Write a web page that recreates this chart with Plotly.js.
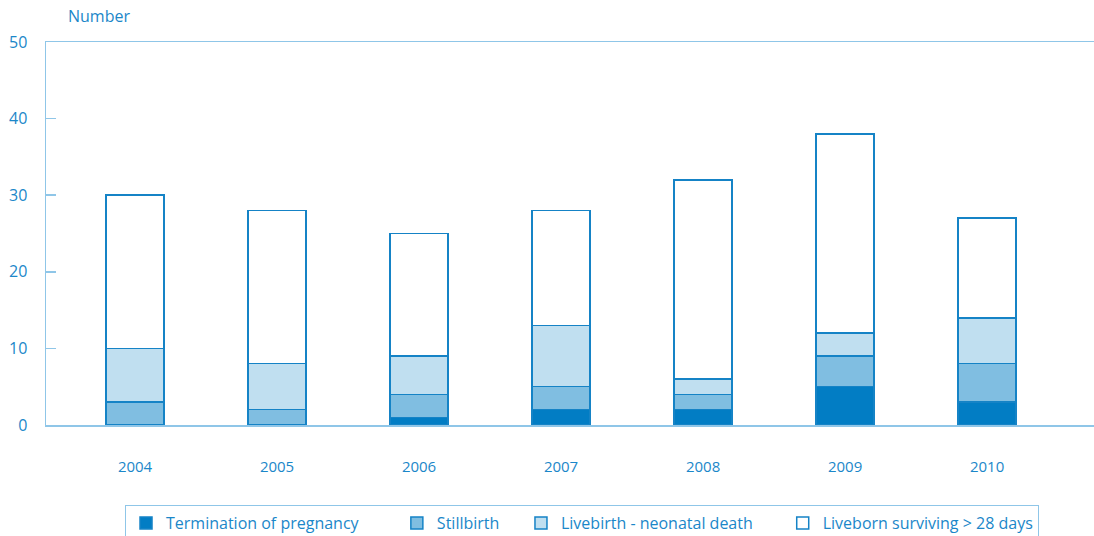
<!DOCTYPE html>
<html><head><meta charset="utf-8">
<script src="https://cdn.plot.ly/plotly-3.0.1.min.js"></script>
<style>html,body{margin:0;padding:0;background:#fff}#chart{width:1094px;height:536px}</style>
</head><body><div id="chart"></div>
<script>
const years = ['2004','2005','2006','2007','2008','2009','2010'];
const termination = [0, 0, 1, 2, 2, 5, 3];
const stillbirth = [3, 2, 3, 3, 2, 4, 5];
const neonatalDeath = [7, 6, 5, 8, 2, 3, 6];
const surviving = [20, 20, 16, 15, 26, 26, 13];
const seriesNames = ['Termination of pregnancy', 'Stillbirth', 'Livebirth - neonatal death', 'Liveborn surviving > 28 days'];
const yTicks = [0, 10, 20, 30, 40, 50];

const fills = ['#027dc4', '#80bee1', '#c0dff0', '#ffffff'];
const edge = '#1583c6';
const txt = '#1b87c9';
const axisCol = '#8fc6e8';
const font = "'Open Sans', 'Noto Sans', sans-serif";
const padCounts = [8, 4, 6, 0];

const data = [termination, stillbirth, neonatalDeath, surviving].map((vals, i) => ({
  type: 'bar', x: years, y: vals, name: seriesNames[i] + '\u00a0'.repeat(padCounts[i]), width: 0.41,
  marker: {color: fills[i], line: {color: edge, width: 1.5}},
  hoverinfo: 'skip'
}));

const layout = {
  width: 1094, height: 536,
  margin: {l: 46, r: 0, t: 42, b: 111, autoexpand: false},
  barmode: 'stack',
  paper_bgcolor: '#fff', plot_bgcolor: '#fff',
  font: {family: font, color: txt, size: 16},
  showlegend: true,
  legend: {
    orientation: 'h', x: 0.0754, xanchor: 'left', y: -0.209, yanchor: 'top',
    bordercolor: axisCol, borderwidth: 1, font: {size: 16, color: txt, family: font},
    traceorder: 'normal', itemwidth: 30
  },
  xaxis: {
    type: 'category', range: [-0.627, 6.753], showgrid: false, zeroline: false,
    showline: true, linecolor: axisCol, linewidth: 1.5, mirror: true,
    ticks: '', tickfont: {size: 15, color: txt}, ticklabelstandoff: 27, fixedrange: true
  },
  yaxis: {
    range: [0, 50], tickvals: yTicks, showgrid: false, zeroline: false,
    showline: true, linecolor: axisCol, linewidth: 1.5,
    ticks: 'inside', ticklen: 10, tickcolor: axisCol, tickwidth: 1.5,
    tickfont: {size: 16, color: txt}, ticklabelstandoff: 14, fixedrange: true
  },
  annotations: [{
    text: 'Number', xref: 'paper', yref: 'paper', x: 0.019, y: 1, xanchor: 'left', yanchor: 'bottom',
    yshift: 13, showarrow: false, font: {size: 16, color: txt, family: font}
  }]
};
Plotly.newPlot('chart', data, layout, {displayModeBar: false, staticPlot: true});
</script></body></html>
